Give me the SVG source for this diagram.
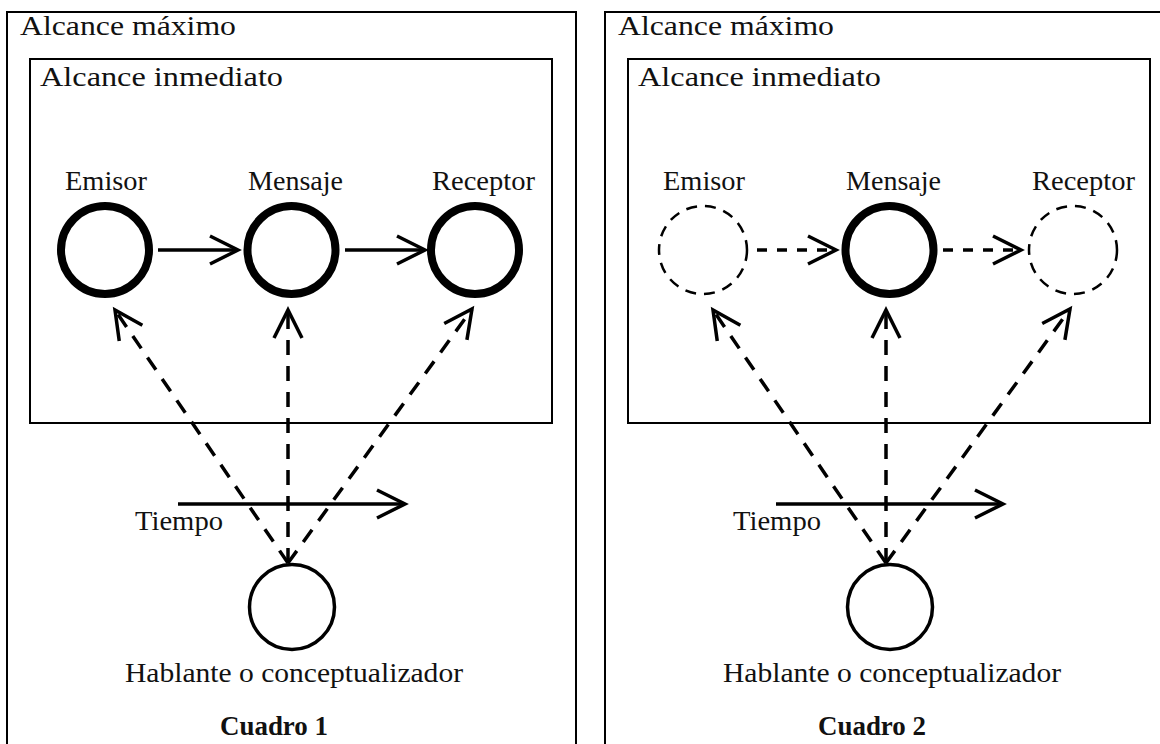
<svg xmlns="http://www.w3.org/2000/svg" width="1160" height="744" viewBox="0 0 1160 744">
  <style>
    .frame { fill: none; stroke: #000; stroke-width: 2; }
    .lbl { font-family: "Liberation Serif", "DejaVu Serif", serif; font-size: 28px; fill: #111; }
    .bold { font-weight: bold; }
    .line { fill: none; stroke: #000; stroke-width: 3.5; }
    .dash { stroke-dasharray: 15 11; }
    .hdash { stroke-dasharray: 10 10; }
    .thick { fill: none; stroke: #000; stroke-width: 8; }
    .ghost { fill: none; stroke: #000; stroke-width: 2.5; stroke-dasharray: 11 8; }
    .speaker { fill: none; stroke: #000; stroke-width: 3.5; }
  </style>
  <defs>
    <!-- open chevron arrowhead, tip at the path end -->
    <marker id="chev" markerUnits="userSpaceOnUse" markerWidth="40" markerHeight="40" refX="0" refY="0" orient="auto" overflow="visible">
      <path d="M-28,-14 L0,0 L-28,14" fill="none" stroke="#000" stroke-width="3.5" stroke-dasharray="none" stroke-linejoin="miter"/>
    </marker>
  </defs>
  <rect width="1160" height="744" fill="#fff"/>

  <!-- ===== Panel 1 ===== -->
  <g id="panel1">
    <g id="p1-max">
      <rect class="frame" x="7" y="12" width="569" height="760"/>
      <text class="lbl" x="20" y="35" textLength="216" lengthAdjust="spacingAndGlyphs">Alcance máximo</text>
    </g>
    <g id="p1-inm">
      <rect class="frame" x="30" y="59" width="522" height="364"/>
      <text class="lbl" x="40" y="86" textLength="243" lengthAdjust="spacingAndGlyphs">Alcance inmediato</text>
    </g>
    <g id="p1-emisor">
      <circle class="thick" cx="105" cy="250" r="44"/>
      <text class="lbl" x="65" y="190" textLength="82" lengthAdjust="spacingAndGlyphs">Emisor</text>
    </g>
    <g id="p1-mensaje">
      <circle class="thick" cx="291.5" cy="250" r="44"/>
      <text class="lbl" x="248" y="190" textLength="95" lengthAdjust="spacingAndGlyphs">Mensaje</text>
    </g>
    <g id="p1-receptor">
      <circle class="thick" cx="475" cy="250" r="44"/>
      <text class="lbl" x="432" y="190" textLength="103" lengthAdjust="spacingAndGlyphs">Receptor</text>
    </g>
    <g id="p1-tiempo">
      <line class="line" x1="178" y1="504" x2="405" y2="504" marker-end="url(#chev)"/>
      <text class="lbl" x="135" y="530" textLength="88" lengthAdjust="spacingAndGlyphs">Tiempo</text>
    </g>
    <g id="p1-hablante">
      <circle class="speaker" cx="292" cy="607" r="42.5"/>
      <text class="lbl" x="125" y="682" textLength="338" lengthAdjust="spacingAndGlyphs">Hablante o conceptualizador</text>
    </g>
    <g id="p1-caption">
      <text class="lbl bold" x="220" y="735" textLength="108" lengthAdjust="spacingAndGlyphs">Cuadro 1</text>
    </g>
    <g id="p1-connectors">
      <line class="line" x1="158" y1="250" x2="238" y2="250" marker-end="url(#chev)"/>
      <line class="line" x1="345" y1="250" x2="425" y2="250" marker-end="url(#chev)"/>
      <line class="line dash" x1="288" y1="563" x2="115" y2="310" marker-end="url(#chev)"/>
      <line class="line dash" x1="288" y1="563" x2="288" y2="310" marker-end="url(#chev)"/>
      <line class="line dash" x1="288" y1="563" x2="472" y2="309" marker-end="url(#chev)"/>
    </g>
  </g>

  <!-- ===== Panel 2 ===== -->
  <g id="panel2">
    <g id="p2-max">
      <rect class="frame" x="605" y="12" width="569" height="760"/>
      <text class="lbl" x="618" y="35" textLength="216" lengthAdjust="spacingAndGlyphs">Alcance máximo</text>
    </g>
    <g id="p2-inm">
      <rect class="frame" x="628" y="59" width="522" height="364"/>
      <text class="lbl" x="638" y="86" textLength="243" lengthAdjust="spacingAndGlyphs">Alcance inmediato</text>
    </g>
    <g id="p2-emisor">
      <circle class="ghost" cx="703" cy="250" r="44"/>
      <text class="lbl" x="663" y="190" textLength="82" lengthAdjust="spacingAndGlyphs">Emisor</text>
    </g>
    <g id="p2-mensaje">
      <circle class="thick" cx="889.5" cy="250" r="44"/>
      <text class="lbl" x="846" y="190" textLength="95" lengthAdjust="spacingAndGlyphs">Mensaje</text>
    </g>
    <g id="p2-receptor">
      <circle class="ghost" cx="1073" cy="250" r="44"/>
      <text class="lbl" x="1032" y="190" textLength="103" lengthAdjust="spacingAndGlyphs">Receptor</text>
    </g>
    <g id="p2-tiempo">
      <line class="line" x1="776" y1="504" x2="1003" y2="504" marker-end="url(#chev)"/>
      <text class="lbl" x="733" y="530" textLength="88" lengthAdjust="spacingAndGlyphs">Tiempo</text>
    </g>
    <g id="p2-hablante">
      <circle class="speaker" cx="890" cy="607" r="42.5"/>
      <text class="lbl" x="723" y="682" textLength="338" lengthAdjust="spacingAndGlyphs">Hablante o conceptualizador</text>
    </g>
    <g id="p2-caption">
      <text class="lbl bold" x="818" y="735" textLength="108" lengthAdjust="spacingAndGlyphs">Cuadro 2</text>
    </g>
    <g id="p2-connectors">
      <line class="line hdash" x1="757" y1="250" x2="836" y2="250" marker-end="url(#chev)"/>
      <line class="line hdash" x1="943" y1="250" x2="1021" y2="250" marker-end="url(#chev)"/>
      <line class="line dash" x1="886" y1="563" x2="713" y2="310" marker-end="url(#chev)"/>
      <line class="line dash" x1="886" y1="563" x2="886" y2="310" marker-end="url(#chev)"/>
      <line class="line dash" x1="886" y1="563" x2="1070" y2="309" marker-end="url(#chev)"/>
    </g>
  </g>
</svg>
